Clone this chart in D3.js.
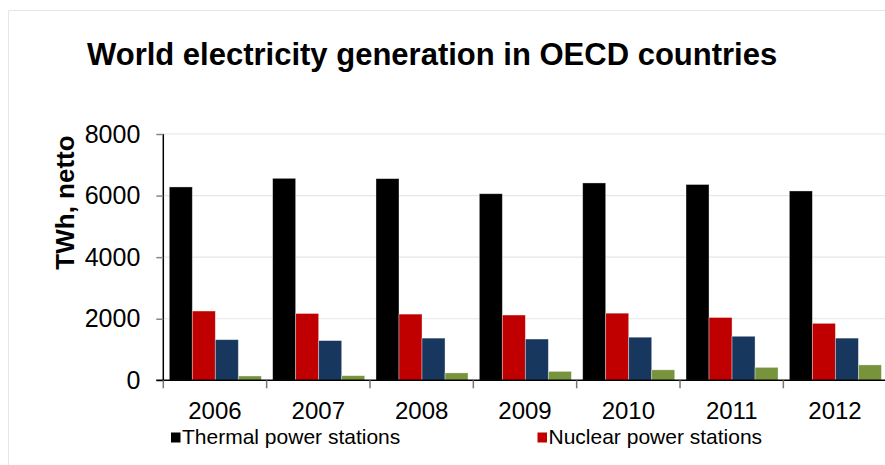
<!DOCTYPE html>
<html>
<head>
<meta charset="utf-8">
<script src="https://cdn.jsdelivr.net/npm/d3@7"></script>
<style>
  html, body { margin: 0; padding: 0; background: #fff; }
  svg { display: block; font-family: "Liberation Sans", Arial, sans-serif; }
</style>
</head>
<body>
<svg id="chart" width="885" height="465"></svg>
<script>
const years = ["2006", "2007", "2008", "2009", "2010", "2011", "2012"];
const thermal = [6280, 6560, 6550, 6060, 6410, 6360, 6150];
const nuclear = [2250, 2170, 2150, 2120, 2180, 2040, 1850];
const hydro   = [1320, 1290, 1370, 1340, 1400, 1430, 1370];
const other   = [140, 150, 240, 290, 340, 420, 500];
const seriesKeys = ["thermal", "nuclear", "hydro", "other"];
const seriesColors = ["#000000", "#C00000", "#17375E", "#77933C"];
const legendLabels = ["Thermal power stations", "Nuclear power stations"];
const yTicks = [0, 2000, 4000, 6000, 8000];

const seriesValues = { thermal, nuclear, hydro, other };

const svg = d3.select("#chart");

// outer frame (light)
svg.append("path")
  .attr("d", "M8.5,465 V10.5 H885")
  .attr("fill", "none")
  .attr("stroke", "#e6e6e6")
  .attr("stroke-width", 1);

// title
svg.append("text")
  .attr("x", 87).attr("y", 65)
  .attr("font-size", 31).attr("font-weight", "bold")
  .attr("fill", "#000")
  .text("World electricity generation in OECD countries");

const x0 = 163.3, x1 = 886.7;
const y = d3.scaleLinear().domain([0, 8000]).range([380.3, 134]);
const x = d3.scaleBand().domain(years).range([x0, x1]).padding(0);
const bw = x.bandwidth();
const xs = d3.scaleBand().domain(seriesKeys).range([6, bw - 5.3]).padding(0);
const color = d3.scaleOrdinal().domain(seriesKeys).range(seriesColors);

// gridlines
svg.append("g").selectAll("line")
  .data(yTicks.filter(d => d > 0))
  .join("line")
  .attr("x1", x0).attr("x2", 885)
  .attr("y1", d => y(d)).attr("y2", d => y(d))
  .attr("stroke", "#e6e6e6").attr("stroke-width", 1.2);

// bars
const groups = svg.append("g").selectAll("g")
  .data(years)
  .join("g")
  .attr("transform", d => `translate(${x(d)},0)`);

groups.selectAll("rect")
  .data((yr, i) => seriesKeys.map(k => ({ key: k, value: seriesValues[k][i] })))
  .join("rect")
  .attr("x", d => xs(d.key))
  .attr("width", xs.bandwidth())
  .attr("y", d => y(d.value))
  .attr("height", d => y(0) - y(d.value))
  .attr("fill", d => color(d.key))
  .attr("stroke", "rgba(255,255,255,0.45)")
  .attr("stroke-width", 0.8);

// y axis
const yAxis = svg.append("g")
  .attr("transform", `translate(${x0},0)`)
  .call(d3.axisLeft(y).tickValues(yTicks).tickSize(7).tickPadding(16).tickFormat(d3.format("d")));
yAxis.select(".domain").attr("stroke", "#000").attr("stroke-width", 1.5)
  .attr("d", `M0,${y(8000)}V${y(0)}`);
yAxis.selectAll(".tick line").attr("stroke", "#888").attr("stroke-width", 1.5);
yAxis.selectAll(".tick text")
  .attr("font-size", 25).attr("fill", "#000")
  .attr("font-family", "'Liberation Sans', Arial, sans-serif");

// x axis
const xAxis = svg.append("g")
  .attr("transform", `translate(0,${y(0)})`)
  .call(d3.axisBottom(x).tickValues([]).tickSize(0));
xAxis.select(".domain").attr("stroke", "#000").attr("stroke-width", 1.5)
  .attr("d", `M${x0 - 7},0H885`);

// category boundary ticks
svg.append("g").selectAll("line")
  .data(years)
  .join("line")
  .attr("x1", d => x(d)).attr("x2", d => x(d))
  .attr("y1", y(0)).attr("y2", y(0) + 8)
  .attr("stroke", "#777").attr("stroke-width", 1.5);

// category labels
svg.append("g").selectAll("text")
  .data(years)
  .join("text")
  .attr("x", d => x(d) + bw / 2)
  .attr("y", 419)
  .attr("text-anchor", "middle")
  .attr("font-size", 24)
  .attr("fill", "#000")
  .text(d => d);

// y title
svg.append("text")
  .attr("transform", "translate(74,202.5) rotate(-90)")
  .attr("text-anchor", "middle")
  .attr("font-size", 26).attr("font-weight", "bold")
  .attr("fill", "#000")
  .text("TWh, netto");

// legend
const legendX = [171, 537.5];
const leg = svg.append("g").selectAll("g")
  .data(legendLabels)
  .join("g")
  .attr("transform", (d, i) => `translate(${legendX[i]},0)`);
leg.append("rect")
  .attr("x", 0).attr("y", 432.5)
  .attr("width", 9.5).attr("height", 10)
  .attr("fill", (d, i) => seriesColors[i]);
leg.append("text")
  .attr("x", 11).attr("y", 443.5)
  .attr("font-size", 21)
  .attr("fill", "#000")
  .text(d => d);
</script>
</body>
</html>
